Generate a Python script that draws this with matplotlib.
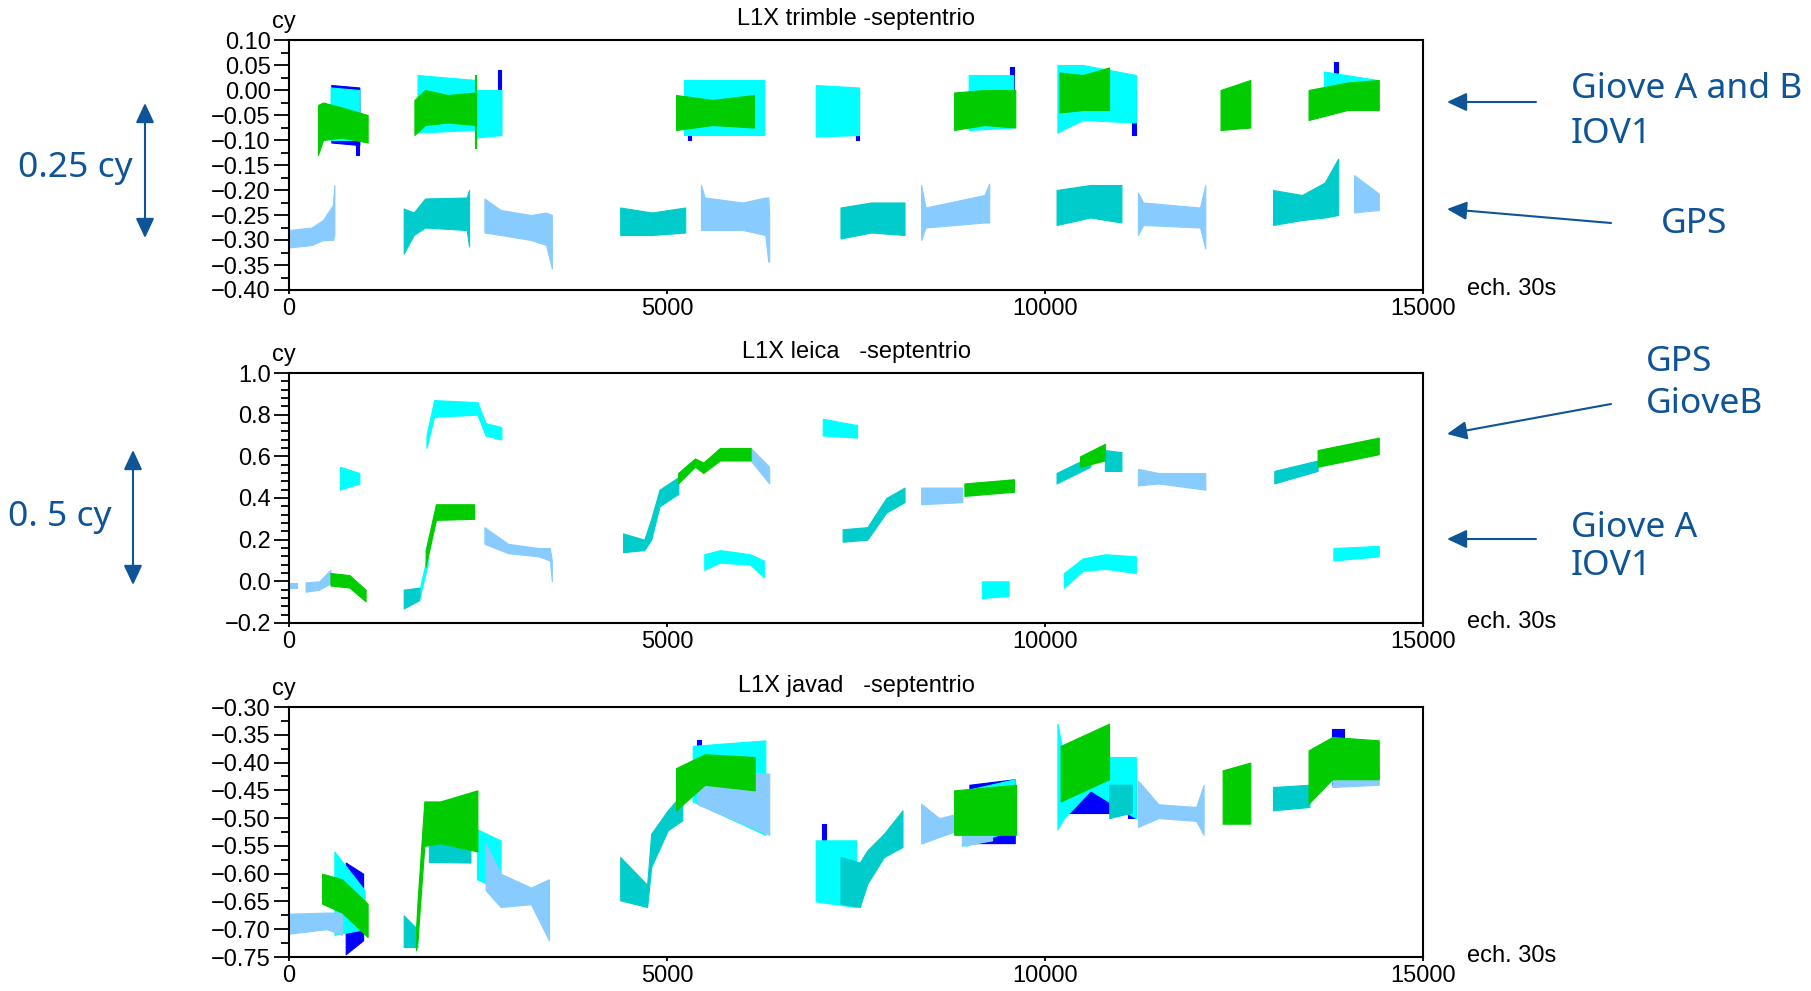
import matplotlib
matplotlib.use("Agg")
import matplotlib.pyplot as plt
from matplotlib.patches import FancyArrowPatch
from matplotlib.ticker import MultipleLocator

# L1X double differences between receivers (cy)
# each trace piece: (x list, lower edge list, upper edge list), x in epochs of 30s

BLUE = "#0000ff"
CYAN = "#00ffff"
LIGHT = "#88ccff"
TURQ = "#00cccc"
GREEN = "#00cc00"
NOTE = "#0f5497"

x_ticks = [0, 5000, 10000, 15000]
x_tick_labels = ["0", "5000", "10000", "15000"]

# ---- panel 1 : trimble - septentrio
trimble_title = "L1X trimble -septentrio"
trimble_ticks = [-0.40, -0.35, -0.30, -0.25, -0.20, -0.15, -0.10, -0.05, 0.00, 0.05, 0.10]
trimble_labels = ["\u22120.40", "\u22120.35", "\u22120.30", "\u22120.25", "\u22120.20", "\u22120.15",
                  "\u22120.10", "\u22120.05", "0.00", "0.05", "0.10"]
trimble_blue = [
    ([560, 930], [-0.105, -0.11], [0.01, 0.005]),
    ([880, 930], [-0.13, -0.13], [-0.02, -0.02]),
    ([2760, 2800], [-0.09, -0.09], [0.04, 0.04]),
    ([5280, 5320], [-0.10, -0.10], [0.02, 0.02]),
    ([7500, 7541], [-0.10, -0.10], [0.0, 0.0]),
    ([9540, 9590], [-0.07, -0.07], [0.047, 0.047]),
    ([11150, 11200], [-0.09, -0.09], [0.0, 0.0]),
    ([13820, 13880], [-0.04, -0.04], [0.057, 0.057]),
]
trimble_cyan = [
    ([550, 930], [-0.10, -0.10], [0.005, 0.0]),
    ([1700, 2475], [-0.085, -0.08], [0.03, 0.02]),
    ([2480, 2810], [-0.095, -0.09], [0.0, 0.0]),
    ([5220, 6280], [-0.09, -0.09], [0.02, 0.02]),
    ([6967, 7541], [-0.093, -0.09], [0.01, 0.005]),
    ([8990, 9580], [-0.08, -0.075], [0.03, 0.03]),
    ([10164, 10500, 11202], [-0.085, -0.06, -0.065], [0.05, 0.05, 0.03]),
    ([13690, 14400], [-0.045, -0.03], [0.037, 0.02]),
]
trimble_light = [
    ([0, 300, 450, 580, 600], [-0.315, -0.31, -0.30, -0.30, -0.29], [-0.28, -0.275, -0.26, -0.23, -0.19]),
    ([2585, 2800, 3200, 3400, 3477], [-0.285, -0.29, -0.30, -0.31, -0.357], [-0.217, -0.24, -0.25, -0.245, -0.25]),
    ([5449, 5500, 6000, 6300, 6340, 6352], [-0.28, -0.28, -0.28, -0.29, -0.343, -0.343],
     [-0.19, -0.215, -0.225, -0.215, -0.215, -0.25]),
    ([8361, 8420, 9200, 9262], [-0.30, -0.275, -0.265, -0.265], [-0.19, -0.235, -0.21, -0.187]),
    ([11229, 11300, 12050, 12120], [-0.29, -0.27, -0.275, -0.317], [-0.205, -0.225, -0.235, -0.19]),
    ([14087, 14415], [-0.245, -0.24], [-0.17, -0.207]),
]
trimble_turq = [
    ([1517, 1650, 1800, 2350, 2382], [-0.327, -0.29, -0.275, -0.28, -0.313], [-0.237, -0.245, -0.217, -0.215, -0.20]),
    ([4381, 4800, 5241], [-0.29, -0.29, -0.285], [-0.235, -0.245, -0.235]),
    ([7295, 7700, 8142], [-0.297, -0.285, -0.29], [-0.235, -0.225, -0.225]),
    ([10153, 10600, 11011], [-0.27, -0.255, -0.265], [-0.20, -0.19, -0.19]),
    ([13016, 13400, 13700, 13879], [-0.27, -0.26, -0.255, -0.25], [-0.20, -0.21, -0.185, -0.137]),
]
trimble_green = [
    ([383, 450, 700, 1040], [-0.13, -0.10, -0.095, -0.105], [-0.03, -0.025, -0.035, -0.05]),
    ([1659, 1800, 2100, 2475], [-0.09, -0.07, -0.065, -0.07], [-0.02, 0.0, -0.01, -0.005]),
    ([2455, 2480], [-0.115, -0.115], [0.03, 0.03]),
    ([5120, 5600, 6150], [-0.08, -0.07, -0.075], [-0.01, -0.02, -0.01]),
    ([8798, 9200, 9607], [-0.08, -0.07, -0.075], [-0.005, 0.0, 0.0]),
    ([10191, 10500, 10847], [-0.045, -0.04, -0.04], [0.035, 0.03, 0.045]),
    ([12322, 12716], [-0.08, -0.075], [0.0, 0.02]),
    ([13486, 14000, 14415], [-0.06, -0.04, -0.04], [0.0, 0.015, 0.02]),
]

# ---- panel 2 : leica - septentrio
leica_title = "L1X leica   -septentrio"
leica_ticks = [-0.2, 0.0, 0.2, 0.4, 0.6, 0.8, 1.0]
leica_labels = ["\u22120.2", "0.0", "0.2", "0.4", "0.6", "0.8", "1.0"]
leica_blue = []
leica_cyan = [
    ([674, 931], [0.44, 0.47], [0.55, 0.52]),
    ([1725, 1834], [-0.08, 0.08], [-0.04, 0.13]),
    ([1818, 1920, 2492, 2600, 2809], [0.64, 0.79, 0.80, 0.70, 0.68], [0.70, 0.87, 0.86, 0.76, 0.74]),
    ([5493, 5700, 6100, 6281], [0.055, 0.09, 0.08, 0.02], [0.13, 0.15, 0.13, 0.10]),
    ([7060, 7514], [0.70, 0.69], [0.78, 0.75]),
    ([9164, 9519], [-0.08, -0.07], [0.0, 0.0]),
    ([10251, 10500, 10800, 11202], [-0.03, 0.05, 0.06, 0.04], [0.04, 0.11, 0.13, 0.12]),
    ([13814, 14415], [0.10, 0.12], [0.16, 0.17]),
]
leica_light = [
    ([0, 110], [-0.03, -0.03], [-0.01, -0.01]),
    ([219, 400, 548], [-0.05, -0.04, -0.01], [-0.005, 0.0, 0.055]),
    ([2585, 2900, 3300, 3450, 3477], [0.18, 0.135, 0.12, 0.10, 0.0], [0.26, 0.18, 0.16, 0.16, 0.10]),
    ([6106, 6352], [0.58, 0.47], [0.64, 0.55]),
    ([8361, 8907], [0.37, 0.38], [0.45, 0.45]),
    ([11229, 11500, 12120], [0.46, 0.47, 0.44], [0.54, 0.52, 0.52]),
]
leica_turq = [
    ([1517, 1725], [-0.13, -0.09], [-0.04, -0.03]),
    ([4419, 4700, 4791, 4901, 5150], [0.14, 0.15, 0.20, 0.36, 0.42], [0.23, 0.20, 0.30, 0.44, 0.50]),
    ([7323, 7650, 7900, 8142], [0.19, 0.20, 0.33, 0.38], [0.25, 0.26, 0.40, 0.45]),
    ([10153, 10601], [0.47, 0.55], [0.52, 0.60]),
    ([10792, 11011], [0.53, 0.53], [0.63, 0.62]),
    ([13033, 13606], [0.47, 0.53], [0.53, 0.58]),
]
leica_green = [
    ([548, 800, 1013], [-0.02, -0.03, -0.096], [0.04, 0.03, -0.04]),
    ([1807, 1944, 2448], [0.07, 0.295, 0.30], [0.15, 0.37, 0.37]),
    ([5147, 5370, 5480, 5700, 6106], [0.47, 0.55, 0.52, 0.58, 0.58], [0.52, 0.59, 0.57, 0.64, 0.64]),
    ([8934, 9590], [0.41, 0.43], [0.47, 0.49]),
    ([10464, 10792], [0.55, 0.58], [0.60, 0.66]),
    ([13606, 14415], [0.55, 0.61], [0.63, 0.69]),
]

# ---- panel 3 : javad - septentrio
javad_title = "L1X javad   -septentrio"
javad_ticks = [-0.75, -0.70, -0.65, -0.60, -0.55, -0.50, -0.45, -0.40, -0.35, -0.30]
javad_labels = ["\u22120.75", "\u22120.70", "\u22120.65", "\u22120.60", "\u22120.55",
                "\u22120.50", "\u22120.45", "\u22120.40", "\u22120.35", "\u22120.30"]
javad_blue = [
    ([750, 980], [-0.745, -0.72], [-0.58, -0.60]),
    ([5400, 5450], [-0.45, -0.45], [-0.36, -0.36]),
    ([7050, 7100], [-0.64, -0.64], [-0.51, -0.51]),
    ([9000, 9600], [-0.545, -0.545], [-0.44, -0.43]),
    ([10250, 10900], [-0.49, -0.49], [-0.40, -0.40]),
    ([11100, 11200], [-0.50, -0.50], [-0.41, -0.41]),
    ([13800, 13950], [-0.44, -0.44], [-0.34, -0.34]),
]
javad_cyan = [
    ([600, 1000], [-0.71, -0.70], [-0.56, -0.63]),
    ([2486, 2798], [-0.61, -0.63], [-0.52, -0.54]),
    ([5340, 6300], [-0.47, -0.53], [-0.37, -0.36]),
    ([6967, 7500], [-0.65, -0.66], [-0.54, -0.54]),
    ([8950, 9600], [-0.55, -0.52], [-0.45, -0.43]),
    ([10164, 10250, 10600, 11202], [-0.52, -0.50, -0.45, -0.50], [-0.33, -0.39, -0.39, -0.39]),
]
javad_light = [
    ([0, 500, 700], [-0.708, -0.70, -0.71], [-0.672, -0.67, -0.67]),
    ([2601, 2800, 3200, 3439], [-0.63, -0.66, -0.655, -0.72], [-0.546, -0.60, -0.625, -0.61]),
    ([5400, 6352], [-0.475, -0.53], [-0.415, -0.42]),
    ([8361, 8600, 8900], [-0.546, -0.534, -0.52], [-0.474, -0.50, -0.49]),
    ([8900, 9300], [-0.55, -0.54], [-0.48, -0.47]),
    ([11229, 11500, 12000, 12098], [-0.516, -0.50, -0.505, -0.53], [-0.432, -0.475, -0.48, -0.44]),
    ([13800, 14415], [-0.444, -0.44], [-0.408, -0.41]),
]
javad_turq = [
    ([1517, 1698], [-0.732, -0.732], [-0.675, -0.70]),
    ([1850, 2400], [-0.579, -0.58], [-0.516, -0.52]),
    ([4381, 4737, 4791, 5010, 5202], [-0.648, -0.66, -0.588, -0.522, -0.504], [-0.57, -0.62, -0.528, -0.486, -0.456]),
    ([7295, 7550, 7650, 7870, 8115], [-0.654, -0.66, -0.618, -0.57, -0.552], [-0.57, -0.58, -0.558, -0.528, -0.486]),
    ([10850, 11150], [-0.50, -0.49], [-0.44, -0.44]),
    ([13016, 13497], [-0.486, -0.48], [-0.444, -0.44]),
]
javad_green = [
    ([438, 700, 1040], [-0.654, -0.67, -0.714], [-0.60, -0.61, -0.654]),
    ([1680, 1700, 1790, 2000, 2492], [-0.738, -0.72, -0.55, -0.545, -0.56], [-0.70, -0.65, -0.47, -0.47, -0.45]),
    ([5120, 5500, 6160], [-0.486, -0.44, -0.45], [-0.41, -0.385, -0.39]),
    ([8798, 9617], [-0.53, -0.53], [-0.45, -0.44]),
    ([10207, 10847], [-0.47, -0.43], [-0.37, -0.33]),
    ([12350, 12716], [-0.51, -0.51], [-0.414, -0.40]),
    ([13486, 13800, 14415], [-0.474, -0.43, -0.43], [-0.378, -0.354, -0.36]),
]

plt.rcParams["font.family"] = ["Liberation Sans", "DejaVu Sans"]

W, H = 1811, 991
fig = plt.figure(figsize=(W / 100, H / 100), dpi=100)


def fx(px):
    return px / W


def fy(py):
    return 1 - py / H


def panel(top, bottom, title, ticks, labels, minor, traces):
    ax = fig.add_axes([fx(289), fy(bottom), fx(1423) - fx(289), (bottom - top) / H])
    # draw order: blue, cyan, light blue, turquoise, green on top
    for color, pieces in traces:
        for xs, lo, hi in pieces:
            ax.fill_between(xs, lo, hi, color=color, lw=0.8, edgecolor=color)
    ax.set_xlim(0, 15000)
    ax.set_ylim(ticks[0], ticks[-1])
    ax.set_xticks(x_ticks)
    ax.set_xticklabels(x_tick_labels)
    ax.set_yticks(ticks)
    ax.set_yticklabels(labels)
    ax.yaxis.set_minor_locator(MultipleLocator(minor))
    ax.tick_params(axis="y", which="major", direction="out", length=11, width=1.3, pad=2, labelsize=17)
    ax.tick_params(axis="y", which="minor", direction="out", length=6, width=1.3)
    ax.tick_params(axis="x", which="major", direction="out", length=3, width=1.3, pad=3, labelsize=17)
    for s in ax.spines.values():
        s.set_linewidth(1.5)
    ax.annotate(title, xy=(0.5, 1), xycoords="axes fraction", xytext=(0, 15),
                textcoords="offset points", ha="center", va="center", fontsize=17)
    ax.annotate("cy", xy=(0, 1), xycoords="axes fraction", xytext=(-4, 13),
                textcoords="offset points", ha="center", va="center", fontsize=17)
    ax.annotate("ech. 30s", xy=(1, 0), xycoords="axes fraction", xytext=(32, 1),
                textcoords="offset points", ha="left", va="center", fontsize=17)
    return ax


panel(40, 290, trimble_title, trimble_ticks, trimble_labels, 0.025,
      [(BLUE, trimble_blue), (CYAN, trimble_cyan), (LIGHT, trimble_light),
       (TURQ, trimble_turq), (GREEN, trimble_green)])
panel(373, 623, leica_title, leica_ticks, leica_labels, 0.04,
      [(BLUE, leica_blue), (CYAN, leica_cyan), (LIGHT, leica_light),
       (TURQ, leica_turq), (GREEN, leica_green)])
panel(707, 957, javad_title, javad_ticks, javad_labels, 0.025,
      [(BLUE, javad_blue), (CYAN, javad_cyan), (LIGHT, javad_light),
       (TURQ, javad_turq), (GREEN, javad_green)])

# hand annotations (blue notes on the right and the scale bars on the left)
note_font = dict(color=NOTE, fontsize=25.5, family=["Noto Sans", "DejaVu Sans"], va="center")
fig.text(fx(1571), fy(89), "Giove A and B", ha="left", **note_font)
fig.text(fx(1571), fy(134), "IOV1", ha="left", **note_font)
fig.text(fx(1661), fy(224), "GPS", ha="left", **note_font)
fig.text(fx(1646), fy(362), "GPS", ha="left", **note_font)
fig.text(fx(1646), fy(404), "GioveB", ha="left", **note_font)
fig.text(fx(1571), fy(528), "Giove A", ha="left", **note_font)
fig.text(fx(1571), fy(566), "IOV1", ha="left", **note_font)
fig.text(fx(133), fy(168), "0.25 cy", ha="right", **note_font)
fig.text(fx(112), fy(517), "0. 5 cy", ha="right", **note_font)

arrow = dict(arrowstyle="-|>,head_length=0.6,head_width=0.28", color=NOTE, lw=1.5,
             mutation_scale=20, shrinkA=0, shrinkB=0)
arrow2 = dict(arrowstyle="<|-|>,head_length=0.6,head_width=0.28", color=NOTE, lw=1.5,
              mutation_scale=20, shrinkA=0, shrinkB=0)
for (x0, y0, x1, y1) in [(1536, 102, 1447, 102), (1611, 223, 1447, 209),
                         (1611, 404, 1447, 434), (1536, 539, 1447, 539)]:
    fig.add_artist(FancyArrowPatch((fx(x0), fy(y0)), (fx(x1), fy(y1)),
                                   transform=fig.transFigure, **arrow))
for (x0, y0, y1) in [(145, 103, 238), (133, 450, 585)]:
    fig.add_artist(FancyArrowPatch((fx(x0), fy(y0)), (fx(x0), fy(y1)),
                                   transform=fig.transFigure, **arrow2))

fig.savefig("out.png", dpi=100)
